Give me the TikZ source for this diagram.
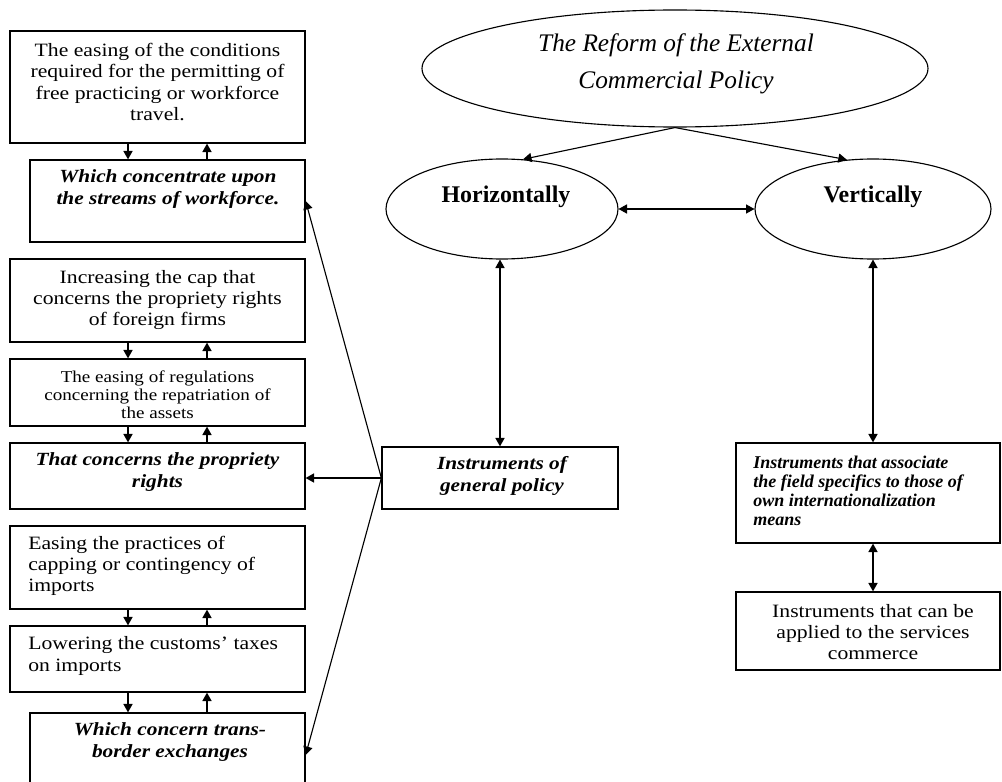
\documentclass[tikz,border=0pt]{standalone}
\usepackage{fontspec}
\setmainfont{Liberation Serif}
\newfontfamily\bxf[FakeStretch=1.15]{Liberation Serif}
\usetikzlibrary{arrows.meta,shapes.geometric}
\newcommand\pxl{0.025cm}
\tikzset{
  box/.style={draw, line width=0.9pt, inner sep=0pt},
  ell/.style={draw, ellipse, line width=0.8pt, inner sep=0pt},
  txt/.style={font=\bxf\fontsize{13.4}{15}\selectfont, align=center, inner sep=0pt},
  smalltxt/.style={font=\bxf\fontsize{11.8}{12.8}\selectfont, align=center, inner sep=0pt},
  bitxt/.style={font=\bxf\fontsize{13.2}{15.5}\selectfont\bfseries\itshape, align=center, inner sep=0pt},
  lefttxt/.style={txt, align=left, anchor=west},
  arr/.style={line width=0.8pt, -{Triangle[length=6pt,width=6.5pt]}},
  darr/.style={line width=0.8pt, {Triangle[length=6pt,width=6.5pt]}-{Triangle[length=6pt,width=6.5pt]}},
}
\begin{document}
\begin{tikzpicture}[x=0.025cm,y=-0.025cm]
\useasboundingbox (0,0) rectangle (1002,782);
\clip (0,0) rectangle (1002,782);

% left column boxes
\node[box, minimum width=295*\pxl, minimum height=112*\pxl] (b1) at (157.5,87) {};
\node[box, minimum width=275*\pxl, minimum height=82*\pxl] (b2) at (167.5,201) {};
\node[box, minimum width=295*\pxl, minimum height=83*\pxl] (b3) at (157.5,300.5) {};
\node[box, minimum width=295*\pxl, minimum height=67*\pxl] (b4) at (157.5,392.5) {};
\node[box, minimum width=295*\pxl, minimum height=66*\pxl] (b5) at (157.5,476) {};
\node[box, minimum width=295*\pxl, minimum height=83*\pxl] (b6) at (157.5,567.5) {};
\node[box, minimum width=295*\pxl, minimum height=66*\pxl] (b7) at (157.5,659) {};
\node[box, minimum width=275*\pxl, minimum height=84*\pxl] (b8) at (167.5,755) {};

\node[txt] (t1) at (157.5,82) {The easing of the conditions\\required for the permitting of\\free practicing or workforce\\travel.};
\node[bitxt] (t2) at (168,189) {Which concentrate upon\\the streams of workforce.};
\node[txt] (t3) at (157.5,300) {Increasing the cap that\\concerns the propriety rights\\of foreign firms};
\node[smalltxt] (t4) at (157.5,395) {The easing of regulations\\concerning the repatriation\ of\\the assets};
\node[bitxt] (t5) at (157.5,472) {That concerns the propriety\\rights};
\node[lefttxt] (t6) at (28,566) {Easing the practices of\\capping or contingency of\\imports};
\node[lefttxt] (t7) at (28,656) {Lowering the customs’ taxes\\on imports};
\node[bitxt] (t8) at (170,742) {Which concern trans-\\border exchanges};

% arrows between left boxes
\coordinate (cd) at (128,0);
\coordinate (cu) at (207,0);
\foreach \a/\b in {b1/b2,b3/b4,b4/b5,b6/b7,b7/b8}{
  \draw[arr] (\a.south -| cd) -- (\b.north -| cd);
  \draw[arr] (\b.north -| cu) -- (\a.south -| cu);
}

% ellipses
\node[ell, minimum width=506*\pxl, minimum height=117*\pxl] (top) at (675,68.5) {};
\node[font=\fontsize{18}{26}\selectfont\itshape, align=center, inner sep=0pt] (ttop) at (676,64) {The Reform of the External\\Commercial Policy};
\node[ell, minimum width=232*\pxl, minimum height=100*\pxl] (hor) at (502,209) {};
\node[font=\fontsize{17}{20}\selectfont\bfseries, inner sep=0pt] (thor) at (506,197) {Horizontally};
\node[ell, minimum width=236*\pxl, minimum height=100*\pxl] (ver) at (873,209) {};
\node[font=\fontsize{17}{20}\selectfont\bfseries, inner sep=0pt] (tver) at (873,197) {Vertically};

\draw[arr] (top.south) -- (hor.67);
\draw[arr] (top.south) -- (ver.118);
\draw[darr] (hor.east) -- (ver.west);

% general policy box
\node[box, minimum width=236*\pxl, minimum height=62*\pxl] (gen) at (500,478) {};
\node[bitxt] (tgen) at (502,476) {Instruments of\\general policy};
\draw[darr] (hor.south -| gen.north) -- (gen.north);

\draw[arr] (gen.west) -- (b2.east);
\draw[arr] (gen.west) -- (b5.east |- gen.west);
\draw[arr] (gen.west) -- (b8.east);

% right boxes
\node[box, minimum width=264*\pxl, minimum height=100*\pxl] (rb1) at (868,493) {};
\node[font=\fontsize{12.8}{13.6}\selectfont\bfseries\itshape, align=left, anchor=west, inner sep=0pt] (trb1) at (753,491) {Instruments that associate\\the field specifics to those of\\own internationalization\\means};
\node[box, minimum width=264*\pxl, minimum height=78*\pxl] (rb2) at (868,631) {};
\node[txt] (trb2) at (873,632) {Instruments that can be\\applied to the services\\commerce};

\coordinate (vx) at (873,0);
\draw[darr] (ver.south) -- (rb1.north -| vx);
\draw[darr] (rb1.south -| vx) -- (rb2.north -| vx);
\end{tikzpicture}
\end{document}
